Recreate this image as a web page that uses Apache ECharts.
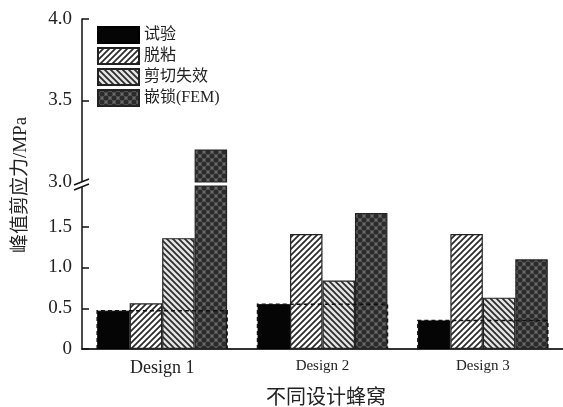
<!DOCTYPE html>
<html>
<head>
<meta charset="utf-8">
<script src="https://cdn.jsdelivr.net/npm/echarts@6/dist/echarts.min.js"></script>
<style>html,body{margin:0;padding:0;background:#fff}#c{width:563px;height:407px}</style>
</head>
<body>
<div id="c"></div>
<script>
const categories = ['Design 1', 'Design 2', 'Design 3'];
const seriesNames = ['试验', '脱粘', '剪切失效', '嵌锁(FEM)'];
const testValues = [0.47, 0.55, 0.35];
const debondValues = [0.56, 1.41, 1.41];
const shearValues = [1.36, 0.84, 0.63];
const femValues = [3.2, 1.67, 1.10];
const upperTicks = [3.0, 3.5, 4.0];
const lowerTicks = [0, 0.5, 1.0, 1.5];
const yAxisName = '峰值剪应力/MPa';
const xAxisName = '不同设计蜂窝';

const BREAK = 3.0;
const CAT_GAP = 0.19;
const SERIF = '"Liberation Serif", "Noto Sans CJK SC", serif';

function makePattern(kind) {
  const s = kind === 'fem' ? 8 : 6;
  const c = document.createElement('canvas');
  c.width = s; c.height = s;
  const g = c.getContext('2d');
  if (kind === 'fem') {
    g.fillStyle = '#6a6a6a'; g.fillRect(0, 0, s, s);
    g.fillStyle = '#2b2b2b';
    [[0,0],[s,0],[0,s],[s,s],[s/2,s/2]].forEach(([x,y]) => {
      g.beginPath(); g.arc(x, y, 2.6, 0, Math.PI*2); g.fill();
    });
    return c;
  }
  g.fillStyle = kind === 'fwd' ? '#ffffff' : '#e4e4e4';
  g.fillRect(0, 0, s, s);
  g.strokeStyle = '#2a2a2a'; g.lineWidth = 1.7;
  g.beginPath();
  if (kind === 'fwd') {
    g.moveTo(-1, s+1); g.lineTo(s+1, -1);
    g.moveTo(-1, 1); g.lineTo(1, -1);
    g.moveTo(s-1, s+1); g.lineTo(s+1, s-1);
  } else {
    g.moveTo(-1, -1); g.lineTo(s+1, s+1);
    g.moveTo(-1, s-1); g.lineTo(1, s+1);
    g.moveTo(s-1, -1); g.lineTo(s+1, 1);
  }
  g.stroke();
  return c;
}

const styles = [
  { color: '#050505', borderColor: '#000', borderWidth: 1 },
  { color: { image: makePattern('fwd'), repeat: 'repeat' }, borderColor: '#222', borderWidth: 1.2 },
  { color: { image: makePattern('back'), repeat: 'repeat' }, borderColor: '#222', borderWidth: 1.2 },
  { color: { image: makePattern('fem'), repeat: 'repeat' }, borderColor: '#222', borderWidth: 1.2 }
];
const allValues = [testValues, debondValues, shearValues, femValues];

const series = [];
allValues.forEach((vals, k) => {
  series.push({
    name: seriesNames[k], type: 'bar', xAxisIndex: 1, yAxisIndex: 1,
    data: vals, itemStyle: styles[k], barGap: '0%', barCategoryGap: (CAT_GAP*100) + '%', clip: true
  });
});
allValues.forEach((vals, k) => {
  series.push({
    name: seriesNames[k], type: 'bar', xAxisIndex: 0, yAxisIndex: 0,
    data: vals.map(v => v > BREAK ? v : '-'), itemStyle: styles[k],
    barGap: '0%', barCategoryGap: (CAT_GAP*100) + '%', clip: true
  });
});
series.push({
  type: 'custom', xAxisIndex: 1, yAxisIndex: 1, z: 5, silent: true,
  data: testValues.map((v, i) => [i, v]),
  renderItem: function (params, api) {
    const top = api.coord([api.value(0), api.value(1)]);
    const base = api.coord([api.value(0), 0]);
    const w = api.size([1, 0])[0] * (1 - CAT_GAP);
    return {
      type: 'polyline',
      shape: { points: [[top[0]-w/2, base[1]], [top[0]-w/2, top[1]], [top[0]+w/2, top[1]], [top[0]+w/2, base[1]]] },
      style: { stroke: '#111', lineWidth: 1.6, lineDash: [4, 3], fill: null }
    };
  }
});

const chart = echarts.init(document.getElementById('c'), null, { renderer: 'canvas' });
chart.setOption({
  animation: false,
  backgroundColor: '#fff',
  grid: [
    { left: 82, right: 0, top: 19, height: 163 },
    { left: 82, right: 0, top: 186, height: 163 }
  ],
  legend: {
    data: seriesNames, orient: 'vertical', left: 97, top: 26, padding: 0,
    itemWidth: 41, itemHeight: 16, itemGap: 3, icon: 'rect',
    textStyle: { fontSize: 16, fontFamily: SERIF, color: '#222', padding: [0, 0, 0, 0] }
  },
  xAxis: [
    { type: 'category', gridIndex: 0, data: categories, show: false },
    {
      type: 'category', gridIndex: 1, data: categories,
      axisLine: { lineStyle: { color: '#333', width: 2 } },
      axisTick: { show: false },
      axisLabel: {
        margin: 10, color: '#222', fontFamily: SERIF,
        formatter: (v, i) => i === 0 ? '{a|' + v + '}' : '{b|' + v + '}',
        rich: { a: { fontSize: 18, fontFamily: SERIF, color: '#222' }, b: { fontSize: 15, fontFamily: SERIF, color: '#222' } }
      }
    }
  ],
  yAxis: [
    {
      type: 'value', gridIndex: 0, min: upperTicks[0], max: upperTicks[upperTicks.length-1], interval: 0.5,
      splitLine: { show: false },
      axisLine: { show: true, lineStyle: { color: '#111', width: 1.5 } },
      axisTick: { show: true, inside: true, length: 7, lineStyle: { color: '#111', width: 1.5 } },
      axisLabel: { margin: 10, fontSize: 19, fontFamily: SERIF, color: '#222', formatter: v => v.toFixed(1) }
    },
    {
      type: 'value', gridIndex: 1, min: 0, max: 2, interval: 0.5,
      splitLine: { show: false },
      axisLine: { show: true, lineStyle: { color: '#111', width: 1.5 } },
      axisTick: { show: true, inside: true, length: 7, customValues: lowerTicks, lineStyle: { color: '#111', width: 1.5 } },
      axisLabel: { margin: 10, fontSize: 19, fontFamily: SERIF, color: '#222', customValues: lowerTicks,
        formatter: v => v === 0 ? '0' : v.toFixed(1) }
    }
  ],
  graphic: [
    { type: 'text', x: 21, y: 185, rotation: Math.PI/2,
      style: { text: yAxisName, fontSize: 19, fontFamily: SERIF, fill: '#222', align: 'center', verticalAlign: 'middle' } },
    { type: 'text', x: 326, y: 396,
      style: { text: xAxisName, fontSize: 20, fontFamily: '"Noto Sans CJK SC", sans-serif', fill: '#222', align: 'center', verticalAlign: 'middle' } },
    { type: 'polygon', z: 100, shape: { points: [[74,185],[89,179],[89,184],[74,190]] }, style: { fill: '#fff' } },
    { type: 'line', z: 101, shape: { x1: 74, y1: 185, x2: 89, y2: 179 }, style: { stroke: '#111', lineWidth: 1.5 } },
    { type: 'line', z: 101, shape: { x1: 74, y1: 190, x2: 89, y2: 184 }, style: { stroke: '#111', lineWidth: 1.5 } }
  ],
  series: series
});
</script>
</body>
</html>
